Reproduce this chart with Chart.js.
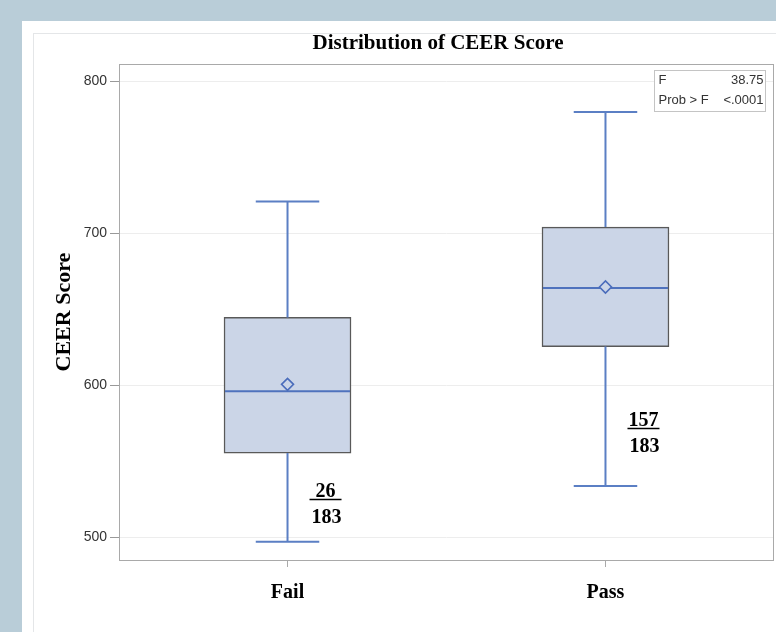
<!DOCTYPE html>
<html>
<head>
<meta charset="utf-8">
<script src="https://cdn.jsdelivr.net/npm/chart.js@4/dist/chart.umd.min.js"></script>
<style>
  html, body { margin:0; padding:0; width:776px; height:632px; overflow:hidden; background:#b9cdd8; }
  #panel { position:absolute; left:22px; top:21px; width:900px; height:700px; background:#ffffff; }
  #inner { position:absolute; left:33px; top:33px; width:900px; height:700px; border:1px solid #e4e6e8; box-sizing:border-box; }
  #wrap { position:absolute; left:0; top:0; width:856px; height:632px; }
</style>
</head>
<body>
<div id="panel"></div>
<div id="inner"></div>
<div id="wrap"><canvas id="c"></canvas></div>
<script>
// ---- data ----
const categories   = ['Fail', 'Pass'];
const whiskerLow   = [497.2, 533.8];
const q1           = [555.5, 625.5];
const median       = [596.1, 664.0];
const q3           = [644.7, 704.1];
const whiskerHigh  = [720.9, 779.8];
const means        = [600.7, 664.7];
const passCount    = [26, 157];
const groupTotal   = [183, 183];
const yTicks       = [500, 600, 700, 800];
const statLabels   = ['F', 'Prob > F'];
const statValues   = ['38.75', '<.0001'];

const SERIF = "'Liberation Serif', 'Times New Roman', serif";
const SANS  = "'Liberation Sans', Arial, sans-serif";

const boxData  = categories.map((c, i) => ({ x: i + 1, y: [q1[i], q3[i]] }));
const meanData = categories.map((c, i) => ({ x: i + 1, y: means[i] }));

const boxPlugin = {
  id: 'boxExtras',
  afterDatasetDraw(chart, args, opts) {
    if (args.index !== 0) return;
    const ctx = chart.ctx, xs = chart.scales.x, ys = chart.scales.y;
    const meta = chart.getDatasetMeta(0);
    ctx.save();
    meta.data.forEach((bar, i) => {
      const cx = xs.getPixelForValue(i + 1);
      const half = bar.width / 2;
      const cap = bar.width / 4;
      ctx.strokeStyle = opts.whiskerColor;
      ctx.lineWidth = 2;
      ctx.beginPath();
      ctx.moveTo(cx, ys.getPixelForValue(q3[i]));
      ctx.lineTo(cx, ys.getPixelForValue(whiskerHigh[i]));
      ctx.moveTo(cx - cap, ys.getPixelForValue(whiskerHigh[i]));
      ctx.lineTo(cx + cap, ys.getPixelForValue(whiskerHigh[i]));
      ctx.moveTo(cx, ys.getPixelForValue(q1[i]));
      ctx.lineTo(cx, ys.getPixelForValue(whiskerLow[i]));
      ctx.moveTo(cx - cap, ys.getPixelForValue(whiskerLow[i]));
      ctx.lineTo(cx + cap, ys.getPixelForValue(whiskerLow[i]));
      ctx.stroke();
      ctx.strokeStyle = opts.medianColor;
      ctx.beginPath();
      ctx.moveTo(cx - half + 1, ys.getPixelForValue(median[i]));
      ctx.lineTo(cx + half - 1, ys.getPixelForValue(median[i]));
      ctx.stroke();
    });
    ctx.restore();
  },
  afterDraw(chart, args, opts) {
    const ctx = chart.ctx, xs = chart.scales.x, ys = chart.scales.y;
    const a = chart.chartArea;
    ctx.save();
    // plot frame
    ctx.strokeStyle = '#a9a9a9';
    ctx.lineWidth = 1;
    ctx.strokeRect(Math.round(a.left) + 0.5, Math.round(a.top) + 0.5,
                   Math.round(a.right - a.left) - 1, Math.round(a.bottom - a.top));
    // fractions
    ctx.fillStyle = '#000';
    ctx.strokeStyle = '#000';
    ctx.font = 'bold 20px ' + SERIF;
    ctx.textAlign = 'center';
    categories.forEach((c, i) => {
      const x = xs.getPixelForValue(i + 1) + opts.fracDx;
      const y = Math.round(ys.getPixelForValue(opts.fracY[i])) + 0.5;
      ctx.textBaseline = 'alphabetic';
      ctx.fillText(String(passCount[i]), x, y - 3);
      ctx.fillText(String(groupTotal[i]), x + 1, y + 23);
      ctx.lineWidth = 1.5;
      ctx.beginPath();
      ctx.moveTo(x - 16, y);
      ctx.lineTo(x + 16, y);
      ctx.stroke();
    });
    // stats inset
    const bx = Math.round(a.right) - 119.5, by = Math.round(a.top) + 6.5, bw = 111, bh = 41;
    ctx.fillStyle = '#fff';
    ctx.fillRect(bx, by, bw, bh);
    ctx.strokeStyle = '#c4c4c4';
    ctx.lineWidth = 1;
    ctx.strokeRect(bx, by, bw, bh);
    ctx.fillStyle = '#333';
    ctx.font = '13px ' + SANS;
    ctx.textBaseline = 'middle';
    statLabels.forEach((s, i) => {
      const ty = by + 10 + i * 20;
      ctx.textAlign = 'left';
      ctx.fillText(s, bx + 4, ty);
      ctx.textAlign = 'right';
      ctx.fillText(statValues[i], bx + bw - 2, ty);
    });
    ctx.restore();
  }
};

new Chart(document.getElementById('c'), {
  type: 'bar',
  data: {
    datasets: [
      {
        type: 'bar',
        data: boxData,
        backgroundColor: '#cbd5e7',
        borderColor: '#595959',
        borderWidth: 1.5,
        borderSkipped: false,
        barThickness: 127,
        grouped: false,
        order: 2
      },
      {
        type: 'scatter',
        data: meanData,
        pointStyle: 'rectRot',
        pointRadius: 6,
        pointBorderWidth: 1.6,
        pointBorderColor: '#4a6cbb',
        pointBackgroundColor: '#cbd5e7',
        order: 1
      }
    ]
  },
  options: {
    responsive: true,
    maintainAspectRatio: false,
    animation: false,
    layout: { padding: { left: 22, right: 2, top: 0, bottom: 0 } },
    plugins: {
      legend: { display: false },
      tooltip: { enabled: false },
      title: {
        display: true,
        text: 'Distribution of CEER Score',
        color: '#000',
        font: { family: SERIF, size: 21, weight: 'bold' },
        padding: { top: 31, bottom: 8 }
      },
      boxExtras: {
        whiskerColor: '#5b7fc4',
        medianColor: '#4f72bd',
        fracDx: 38,
        fracY: [525.5, 572]
      }
    },
    scales: {
      x: {
        type: 'linear',
        offset: false,
        min: 0.47,
        max: 2.53,
        afterBuildTicks: (s) => { s.ticks = categories.map((c, i) => ({ value: i + 1 })); },
        afterFit: (s) => { s.height = 72; s.paddingLeft = 0; s.paddingRight = 0; },
        ticks: {
          autoSkip: false,
          maxRotation: 0,
          padding: 14,
          color: '#000',
          font: { family: SERIF, size: 20, weight: 'bold' },
          callback: (v) => categories[v - 1]
        },
        grid: { offset: false, drawOnChartArea: false, tickLength: 7, tickColor: '#aaaaaa' },
        border: { display: false }
      },
      y: {
        type: 'linear',
        min: 485.2,
        max: 811.2,
        afterBuildTicks: (s) => { s.ticks = yTicks.map(v => ({ value: v })); },
        afterFit: (s) => { s.width = 97; },
        ticks: {
          padding: 3,
          color: '#333',
          font: { family: SANS, size: 14 }
        },
        grid: { color: '#ededed', tickLength: 9, tickColor: '#999999' },
        border: { display: false },
        title: {
          display: true,
          text: 'CEER Score',
          color: '#000',
          font: { family: SERIF, size: 22, weight: 'bold' },
          padding: { top: 29, bottom: 0 }
        }
      },
      // region of the original graphic that lies beyond the cropped right edge
      yRight: {
        type: 'linear',
        position: 'right',
        display: true,
        afterFit: (s) => { s.width = 80; },
        ticks: { display: false },
        grid: { display: false },
        border: { display: false }
      }
    }
  },
  plugins: [boxPlugin]
});
</script>
</body>
</html>
